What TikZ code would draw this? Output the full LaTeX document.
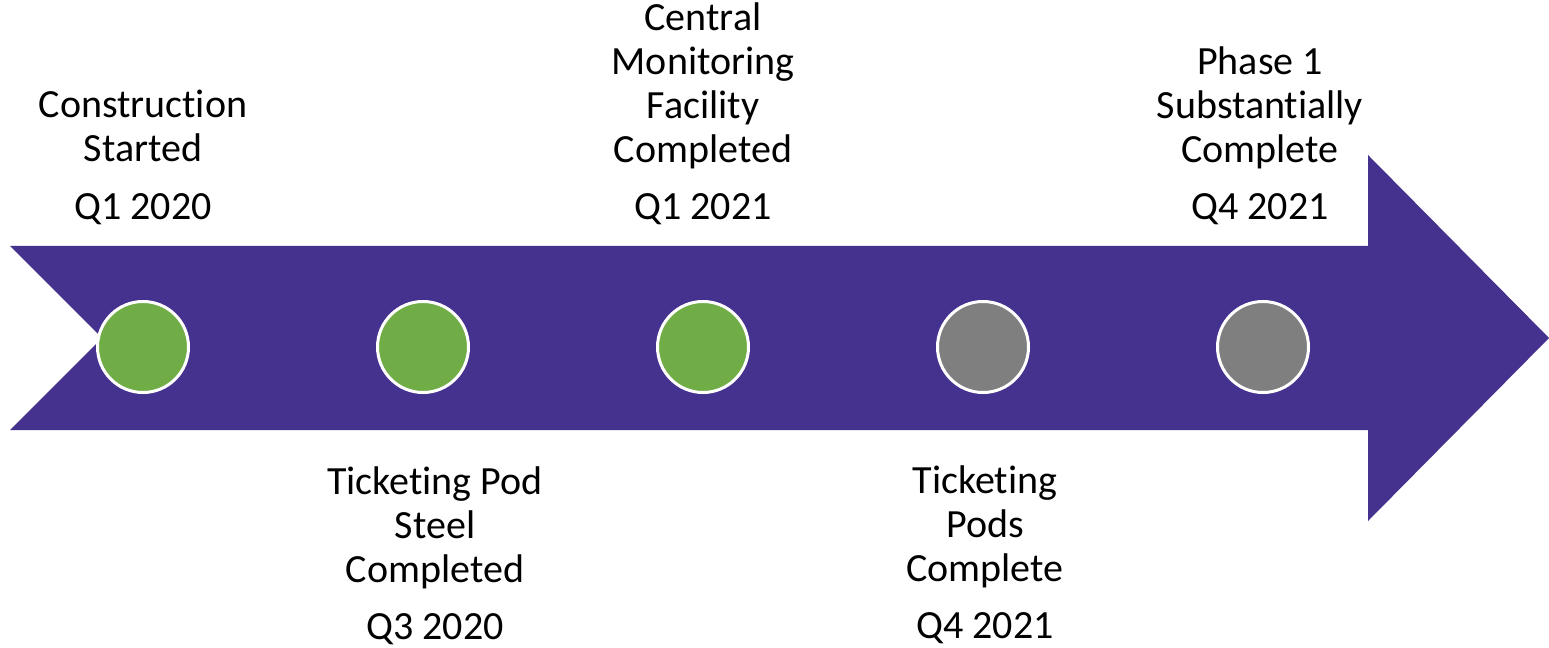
\documentclass[tikz,border=0pt]{standalone}
\usepackage{fontspec}
\setmainfont{Carlito}[Ligatures=NoCommon]
\definecolor{arrowpurple}{RGB}{69,49,142}
\definecolor{donegreen}{RGB}{112,173,71}
\definecolor{todogray}{RGB}{127,127,127}
\begin{document}
\begin{tikzpicture}[x=0.75pt,y=-0.75pt,
  milestone/.style={circle,draw=white,line width=2.25pt,minimum size=68.25pt,inner sep=0pt},
  done/.style={milestone,fill=donegreen},
  todo/.style={milestone,fill=todogray},
  label/.style={align=center,inner sep=0pt,text depth=0pt,anchor=south,
    font=\fontsize{30}{33}\selectfont},
  datelabel/.style={inner sep=0pt,anchor=base,font=\fontsize{30}{33}\selectfont}]
\useasboundingbox[fill=white] (0,0) rectangle (1549,648);
% timeline arrow
\fill[arrowpurple] (10,246) -- (1368,246) -- (1368,155) -- (1549,338)
  -- (1368,521) -- (1368,430) -- (10,430) -- (102,338) -- cycle;
% milestones
\node[done] (c1) at (143,347) {};
\node[done] (c2) at (423,347) {};
\node[done] (c3) at (703,347) {};
\node[todo] (c4) at (983,347) {};
\node[todo] (c5) at (1263,347) {};
% labels above
\node[label] (l1) at (143,162) {Construction\\Started};
\node[datelabel] (d1) at (143,220) {Q1 2020};
\node[label] (l3) at (703,163) {Central\\Monitoring\\Facility\\Completed};
\node[datelabel] (d3) at (703,220) {Q1 2021};
\node[label] (l5) at (1260,163) {Phase 1\\Substantially\\Complete};
\node[datelabel] (d5) at (1260,220) {Q4 2021};
% labels below
\node[label] (l2) at (435,583) {Ticketing Pod\\Steel\\Completed};
\node[datelabel] (d2) at (435,639) {Q3 2020};
\node[label] (l4) at (985,582) {Ticketing\\Pods\\Complete};
\node[datelabel] (d4) at (985,638) {Q4 2021};
\end{tikzpicture}
\end{document}
